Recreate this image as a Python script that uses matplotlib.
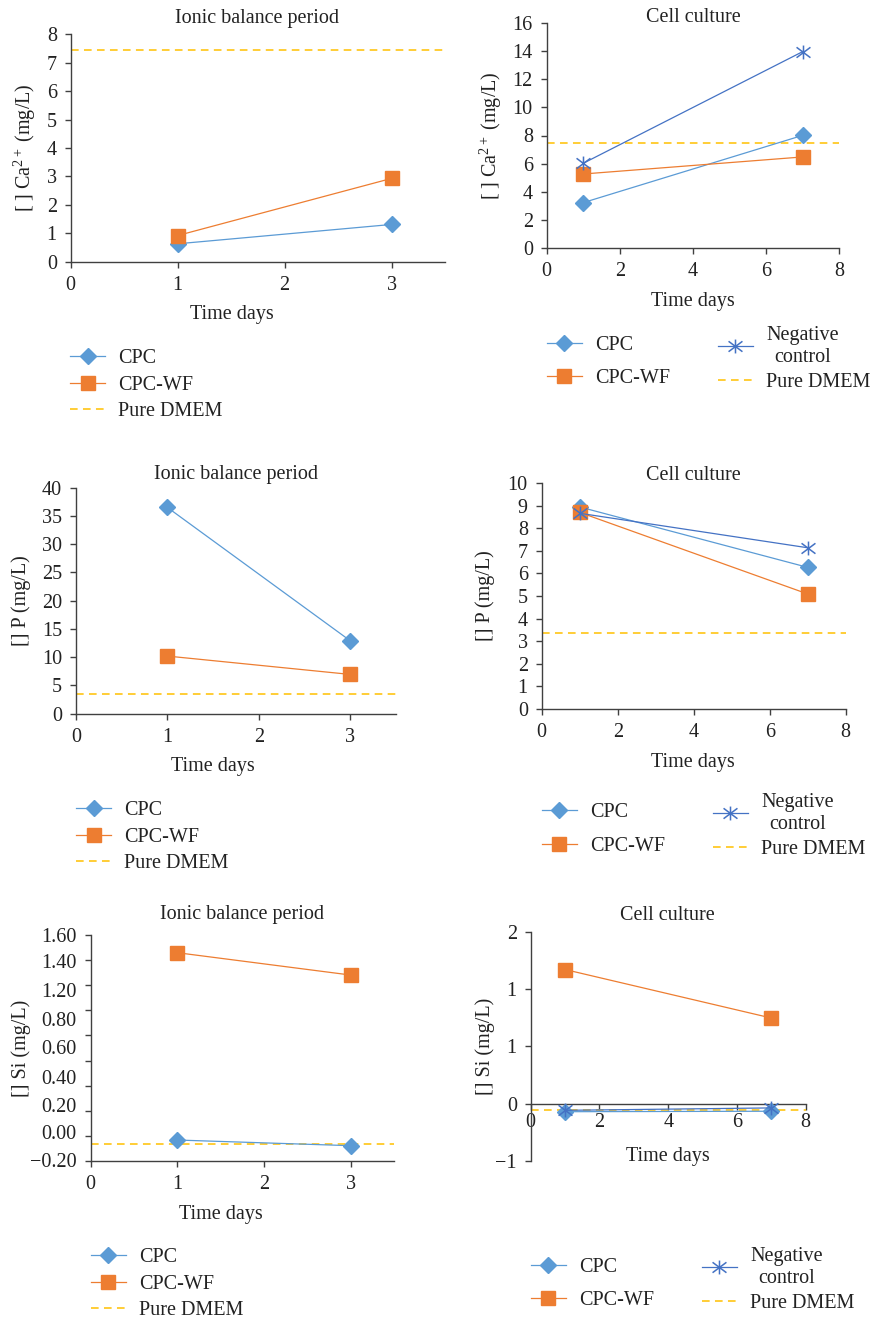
import matplotlib
matplotlib.use("Agg")
import matplotlib.pyplot as plt
from matplotlib.path import Path
import numpy as np

plt.rcParams['font.family'] = ['Liberation Serif', 'DejaVu Serif']
plt.rcParams['mathtext.fontset'] = 'custom'
plt.rcParams['mathtext.rm'] = 'Liberation Serif'
plt.rcParams['mathtext.it'] = 'Liberation Serif:italic'
plt.rcParams['axes.unicode_minus'] = True

# ---------------- data ----------------
days_ionic = [1, 3]
days_cell = [1, 7]

ca_ionic_cpc = [0.63, 1.31]
ca_ionic_cpcwf = [0.92, 2.93]
ca_ionic_dmem = 7.44

ca_cell_cpc = [3.24, 8.01]
ca_cell_cpcwf = [5.27, 6.48]
ca_cell_neg = [6.03, 13.95]
ca_cell_dmem = 7.45

p_ionic_cpc = [36.5, 12.9]
p_ionic_cpcwf = [10.2, 6.95]
p_ionic_dmem = 3.4

p_cell_cpc = [8.95, 6.27]
p_cell_cpcwf = [8.71, 5.09]
p_cell_neg = [8.67, 7.14]
p_cell_dmem = 3.34

si_ionic_cpc = [-0.033, -0.078]
si_ionic_cpcwf = [1.459, 1.281]
si_ionic_dmem = -0.064

si_cell_cpc = [-0.07, -0.066]
si_cell_cpcwf = [1.17, 0.747]
si_cell_neg = [-0.058, -0.037]
si_cell_dmem = -0.058

si_ionic_ticklabels = ['1.60', '1.40', '1.20', '0.80', '0.60', '0.40', '0.20', '0.00', '\u22120.20']
si_cell_ticklabels = ['2', '1', '1', '0', '\u22121']

labels = ['CPC', 'CPC-WF', 'Negative\ncontrol', 'Pure DMEM']

# ---------------- style ----------------
C_CPC = '#5B9BD5'
C_WF = '#ED7D31'
C_NEG = '#4472C4'
C_DMEM = '#FFC000'
AX_C = '#404040'
TXT_C = '#222222'
FS = 14.5

star = Path([(0, -1), (0, 1), (-1, -0.75), (1, 0.75), (-1, 0.75), (1, -0.75)],
            [Path.MOVETO, Path.LINETO, Path.MOVETO, Path.LINETO, Path.MOVETO, Path.LINETO])

W, H = 877, 1320
fig = plt.figure(figsize=(W / 100, H / 100), dpi=100)


def add_ax(l, t, r, b):
    return fig.add_axes([l / W, 1 - b / H, (r - l) / W, (b - t) / H])


def style(ax):
    for s in ['top', 'right']:
        ax.spines[s].set_visible(False)
    for s in ['left', 'bottom']:
        ax.spines[s].set_color(AX_C)
        ax.spines[s].set_linewidth(1.0)
    ax.tick_params(direction='out', length=4, width=1.0, color=AX_C,
                   labelsize=FS, labelcolor=TXT_C)
    ax.tick_params(axis='y', pad=6)
    ax.tick_params(axis='x', pad=6)
    ax.set_facecolor('none')


def plot_cpc(ax, x, y):
    return ax.plot(x, y, color=C_CPC, lw=0.9, marker='D', ms=8.5, mfc=C_CPC, mec=C_CPC, zorder=3)[0]


def plot_wf(ax, x, y):
    return ax.plot(x, y, color=C_WF, lw=0.9, marker='s', ms=10, mfc=C_WF, mec=C_WF, zorder=4)[0]


def plot_neg(ax, x, y):
    return ax.plot(x, y, color=C_NEG, lw=0.9, marker=star, ms=10, mfc='none', mec=C_NEG, mew=1.1, zorder=5)[0]


def plot_dmem(ax, v):
    return ax.axhline(v, color=C_DMEM, lw=1.1, ls=(0, (5, 3.5)), zorder=2)


def ylab(ax, text, xc, ax_left, ax_w):
    ax.set_ylabel(text, fontsize=FS, va='center', color=TXT_C)
    ax.yaxis.set_label_coords((xc - ax_left) / ax_w, 0.5)


def ftext(x, y, text):
    fig.text(x / W, 1 - y / H, text, fontsize=FS, ha='center', va='center', color=TXT_C)


def legend_ionic(ax, handles, x, y):
    leg = ax.legend(handles, [labels[0], labels[1], labels[3]], loc='center left',
                    bbox_to_anchor=(x / W, 1 - y / H), bbox_transform=fig.transFigure,
                    frameon=False, fontsize=FS, borderpad=0, borderaxespad=0,
                    handlelength=1.75, handletextpad=0.65, labelspacing=0.37)
    for t in leg.get_texts():
        t.set_color(TXT_C)
    return leg


def legend_cell(ax, hl, hr, xl, yl, xr, yr):
    leg1 = ax.legend(hl, [labels[0], labels[1]], loc='center left',
                     bbox_to_anchor=(xl / W, 1 - yl / H), bbox_transform=fig.transFigure,
                     frameon=False, fontsize=FS, borderpad=0, borderaxespad=0,
                     handlelength=1.75, handletextpad=0.65, labelspacing=0.7)
    for t in leg1.get_texts():
        t.set_color(TXT_C)
    ax.add_artist(leg1)
    leg2 = ax.legend(hr, [labels[2], labels[3]], loc='center left',
                     bbox_to_anchor=(xr / W, 1 - yr / H), bbox_transform=fig.transFigure,
                     frameon=False, fontsize=FS, borderpad=0, borderaxespad=0,
                     handlelength=1.75, handletextpad=0.65, labelspacing=0.3)
    for t in leg2.get_texts():
        t.set_multialignment('center')
        t.set_color(TXT_C)
    return leg2


# ---------- Panel 1: Ca ionic ----------
l, t, r, b = 70.7, 34.3, 445, 261.7
ax = add_ax(l, t, r, b)
style(ax)
h1 = plot_cpc(ax, days_ionic, ca_ionic_cpc)
h2 = plot_wf(ax, days_ionic, ca_ionic_cpcwf)
h4 = plot_dmem(ax, ca_ionic_dmem)
ax.set_xlim(0, 3.5)
ax.set_ylim(0, 8)
ax.set_xticks([0, 1, 2, 3])
ax.set_yticks(range(0, 9))
ylab(ax, '[ ] Ca$^{2+}$ (mg/L)', 25, l, r - l)
ftext(257, 18, 'Ionic balance period')
ftext(232, 315, 'Time days')
legend_ionic(ax, [h1, h2, h4], 70, 385)

# ---------- Panel 2: Ca cell ----------
l, t, r, b = 546.7, 22.7, 839.3, 248.3
ax = add_ax(l, t, r, b)
style(ax)
h1 = plot_cpc(ax, days_cell, ca_cell_cpc)
h2 = plot_wf(ax, days_cell, ca_cell_cpcwf)
h3 = plot_neg(ax, days_cell, ca_cell_neg)
h4 = plot_dmem(ax, ca_cell_dmem)
ax.set_xlim(0, 8)
ax.set_ylim(0, 16)
ax.set_xticks([0, 2, 4, 6, 8])
ax.set_yticks(range(0, 17, 2))
ylab(ax, '[ ] Ca$^{2+}$ (mg/L)', 491, l, r - l)
ftext(693, 18, 'Cell culture')
ftext(693, 301.7, 'Time days')
legend_cell(ax, [h1, h2], [h3, h4], 546.7, 362, 717.7, 359)

# ---------- Panel 3: P ionic ----------
l, t, r, b = 76, 487.7, 396, 713.7
ax = add_ax(l, t, r, b)
style(ax)
h1 = plot_cpc(ax, days_ionic, p_ionic_cpc)
h2 = plot_wf(ax, days_ionic, p_ionic_cpcwf)
h4 = plot_dmem(ax, p_ionic_dmem)
ax.set_xlim(0, 3.5)
ax.set_ylim(0, 40)
ax.set_xticks([0, 1, 2, 3])
ax.set_yticks(range(0, 41, 5))
ylab(ax, '[] P (mg/L)', 21, l, r - l)
ftext(236, 475, 'Ionic balance period')
ftext(213, 766.7, 'Time days')
legend_ionic(ax, [h1, h2, h4], 76, 837)

# ---------- Panel 4: P cell ----------
l, t, r, b = 541.7, 483.3, 845.7, 708.7
ax = add_ax(l, t, r, b)
style(ax)
h1 = plot_cpc(ax, days_cell, p_cell_cpc)
h2 = plot_wf(ax, days_cell, p_cell_cpcwf)
h3 = plot_neg(ax, days_cell, p_cell_neg)
h4 = plot_dmem(ax, p_cell_dmem)
ax.set_xlim(0, 8)
ax.set_ylim(0, 10)
ax.set_xticks([0, 2, 4, 6, 8])
ax.set_yticks(range(0, 11))
ylab(ax, '[] P (mg/L)', 485, l, r - l)
ftext(693, 475, 'Cell culture')
ftext(693, 762.7, 'Time days')
legend_cell(ax, [h1, h2], [h3, h4], 541.7, 829.5, 712.7, 826)

# ---------- Panel 5: Si ionic ----------
l, t, r, b = 90.7, 935, 394, 1161
ax = add_ax(l, t, r, b)
style(ax)
h1 = plot_cpc(ax, days_ionic, si_ionic_cpc)
h2 = plot_wf(ax, days_ionic, si_ionic_cpcwf)
h4 = plot_dmem(ax, si_ionic_dmem)
ax.set_xlim(0, 3.5)
ax.set_ylim(-0.2, 1.6)
ax.set_xticks([0, 1, 2, 3])
ax.set_yticks(np.linspace(-0.2, 1.6, 10))
ax.yaxis.set_major_formatter(plt.NullFormatter())
si_label_pos = [1.6, 1.392, 1.165, 0.933, 0.704, 0.472, 0.245, 0.032, -0.189]
ax.yaxis.remove_overlapping_locs = False
ax.set_yticks(si_label_pos, minor=True)
ax.set_yticklabels(si_ionic_ticklabels, minor=True)
ax.tick_params(axis='y', which='minor', length=0, pad=10, labelsize=FS, labelcolor=TXT_C)
ylab(ax, '[] Si (mg/L)', 21, l, r - l)
ftext(241.7, 915, 'Ionic balance period')
ftext(221, 1214, 'Time days')
legend_ionic(ax, [h1, h2, h4], 90.7, 1284)

# ---------- Panel 6: Si cell ----------
l, t, r, b = 530.7, 931.7, 805.7, 1161
ax = add_ax(l, t, r, b)
style(ax)
h1 = plot_cpc(ax, days_cell, si_cell_cpc)
h2 = plot_wf(ax, days_cell, si_cell_cpcwf)
h3 = plot_neg(ax, days_cell, si_cell_neg)
h4 = plot_dmem(ax, si_cell_dmem)
ax.set_xlim(0, 8)
ax.set_ylim(-0.5, 1.5)
ax.spines['bottom'].set_position(('data', 0))
ax.set_xticks([0, 2, 4, 6, 8])
ax.set_yticks([1.5, 1.0, 0.5, 0.0, -0.5])
ax.set_yticklabels(si_cell_ticklabels)
ax.tick_params(axis='x', pad=3)
ylab(ax, '[] Si (mg/L)', 485.5, l, r - l)
ftext(667.7, 915, 'Cell culture')
ftext(667.7, 1156.7, 'Time days')
legend_cell(ax, [h1, h2], [h3, h4], 530.7, 1284, 701.7, 1280)

fig.savefig('out.png', dpi=100, facecolor='white')
